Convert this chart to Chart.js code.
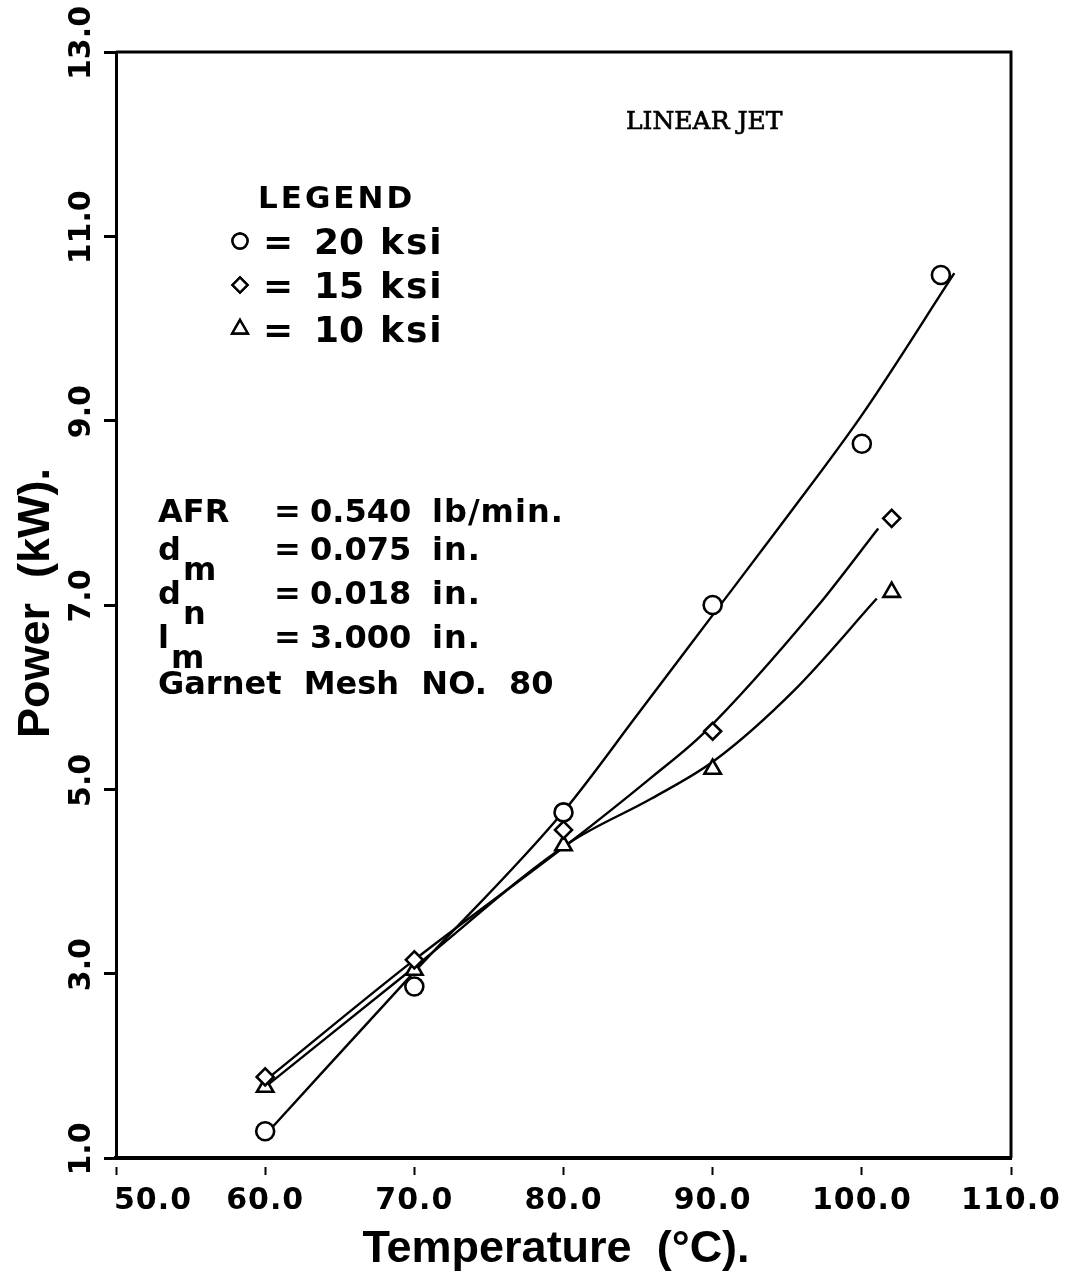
<!DOCTYPE html>
<html>
<head>
<meta charset="utf-8">
<script src="https://cdn.jsdelivr.net/npm/chart.js@4.4.0/dist/chart.umd.min.js"></script>
<style>
  html, body { margin: 0; padding: 0; background: #fff; }
</style>
</head>
<body>
<canvas id="chart" width="1069" height="1272"></canvas>
<script>
// axis ticks
const tempTicks = [50, 60, 70, 80, 90, 100, 110];
const powerTicks = [1, 3, 5, 7, 9, 11, 13];

// measured points (temperature degC, power kW)
const temp20 = [60, 70, 80, 90, 100, 105.3];
const power20 = [1.29, 2.86, 4.75, 7.0, 8.75, 10.58];
const temp15 = [60, 70, 80, 90, 102];
const power15 = [1.88, 3.15, 4.56, 5.63, 7.94];
const temp10 = [60, 70, 80, 90, 102];
const power10 = [1.77, 3.04, 4.39, 5.22, 7.14];

// fitted curves through each set
const fitTemp20 = [60.4, 70, 80, 85, 90, 95, 100, 106.2];
const fitPower20 = [1.32, 3.02, 4.76, 5.82, 6.89, 7.96, 9.06, 10.6];
const fitTemp15 = [60.3, 70, 80.4, 85.9, 89.4, 97, 101.1];
const fitPower15 = [1.88, 3.15, 4.42, 5.13, 5.61, 6.98, 7.83];
const fitTemp10 = [60.3, 70, 80.4, 85.9, 90.1, 95.5, 101];
const fitPower10 = [1.81, 3.07, 4.42, 4.90, 5.31, 6.08, 7.07];

const seriesNames = ["20 ksi", "15 ksi", "10 ksi"];
const seriesStyles = ["circle", "rectRot", "triangle"];

const pts = (xs, ys) => xs.map((x, i) => ({ x, y: ys[i] }));

function fitSet(xs, ys) {
  return {
    data: pts(xs, ys),
    showLine: true,
    borderColor: "#000",
    borderWidth: 2.4,
    pointRadius: 0,
    cubicInterpolationMode: "monotone",
    order: 2
  };
}

function markSet(label, xs, ys, style, r) {
  return {
    label,
    data: pts(xs, ys),
    showLine: false,
    pointStyle: style,
    pointRadius: r,
    pointBorderWidth: 2.6,
    pointBorderColor: "#000",
    pointBackgroundColor: "#fff",
    order: 1
  };
}

function txt(ctx, s, x, y, font, spacing) {
  ctx.font = font;
  if ("letterSpacing" in ctx) ctx.letterSpacing = (spacing || 0) + "px";
  ctx.fillText(s, x, y);
  if ("letterSpacing" in ctx) ctx.letterSpacing = "0px";
}

// labels, legend, notes and frame
const paperText = {
  id: "paperText",
  afterDraw(c) {
    const ctx = c.ctx;
    const area = c.chartArea;
    const xs = c.scales.x, ys = c.scales.y;
    ctx.save();
    ctx.fillStyle = "#000";
    ctx.strokeStyle = "#000";

    // top and right edges of the frame
    ctx.lineWidth = 3;
    ctx.beginPath();
    ctx.moveTo(area.left, area.top);
    ctx.lineTo(area.right, area.top);
    ctx.lineTo(area.right, area.bottom);
    ctx.stroke();

    // x tick labels
    ctx.textBaseline = "alphabetic";
    xs.ticks.forEach((t, i) => {
      const px = xs.getPixelForTick(i);
      const s = t.value.toFixed(1);
      ctx.textAlign = i === 0 ? "left" : "center";
      txt(ctx, s, i === 0 ? px - 2 : px, 1209, "bold 30px 'DejaVu Sans'", 1);
    });

    // y tick labels, turned on their side
    ys.ticks.forEach((t, i) => {
      const py = ys.getPixelForTick(i);
      ctx.save();
      ctx.translate(79, py - 9);
      ctx.rotate(-Math.PI / 2);
      ctx.textAlign = "center";
      txt(ctx, t.value.toFixed(1), 0, 11, "bold 30px 'DejaVu Sans'");
      ctx.restore();
    });

    // axis titles
    ctx.textAlign = "center";
    txt(ctx, "Temperature  (°C).", 556, 1262, "bold 45px 'Liberation Sans'");
    ctx.save();
    ctx.translate(49, 603);
    ctx.rotate(-Math.PI / 2);
    txt(ctx, "Power  (kW).", 0, 0, "bold 45px 'Liberation Sans'");
    ctx.restore();

    // header, typewriter style
    ctx.textAlign = "left";
    ctx.lineWidth = 0.7;
    ctx.font = "25px 'DejaVu Serif'";
    ctx.fillText("LINEAR JET", 626, 129);
    ctx.strokeText("LINEAR JET", 626, 129);

    // legend
    txt(ctx, "LEGEND", 258, 208, "bold 31px 'DejaVu Sans'", 3);
    const rowY = [241, 285, 329];
    const legR = [7.5, 7.5, 9];
    const [sig20, sig15, sig10] = seriesNames.map(n => n.split(" "));
    [sig20, sig15, sig10].forEach((parts, i) => {
      const y = rowY[i];
      ctx.lineWidth = 2.4;
      ctx.fillStyle = "#fff";
      Chart.helpers.drawPoint(ctx, { pointStyle: seriesStyles[i], radius: legR[i], borderWidth: 2.4, rotation: 0 }, 240, y);
      ctx.fill();
      ctx.stroke();
      ctx.fillStyle = "#000";
      txt(ctx, "=", 263, y + 13, "bold 36px 'DejaVu Sans'");
      txt(ctx, parts[0], 314, y + 13, "bold 36px 'DejaVu Sans'");
      txt(ctx, parts[1], 380, y + 13, "bold 36px 'DejaVu Sans'", 2);
    });

    // test conditions
    const f = "bold 32px 'DejaVu Sans'";
    const notes = [
      { name: "AFR", sub: "", val: "0.540", unit: "lb/min.", y: 522 },
      { name: "d", sub: "m", val: "0.075", unit: "in.", y: 560 },
      { name: "d", sub: "n", val: "0.018", unit: "in.", y: 604 },
      { name: "l", sub: "m", val: "3.000", unit: "in.", y: 648 }
    ];
    notes.forEach(n => {
      txt(ctx, n.name, 158, n.y, f);
      if (n.sub) {
        ctx.font = f;
        const w = ctx.measureText(n.name).width;
        txt(ctx, n.sub, 158 + w + 2, n.y + 20, f);
      }
      txt(ctx, "=", 274, n.y, f);
      txt(ctx, n.val, 310, n.y, f);
      txt(ctx, n.unit, 432, n.y, f, 1);
    });
    txt(ctx, "Garnet  Mesh  NO.  80", 158, 694, f);

    ctx.restore();
  }
};

const chart = new Chart(document.getElementById("chart"), {
  type: "scatter",
  data: {
    datasets: [
      fitSet(fitTemp20, fitPower20),
      fitSet(fitTemp15, fitPower15),
      fitSet(fitTemp10, fitPower10),
      markSet(seriesNames[0], temp20, power20, seriesStyles[0], 9),
      markSet(seriesNames[1], temp15, power15, seriesStyles[1], 8.5),
      markSet(seriesNames[2], temp10, power10, seriesStyles[2], 9.5)
    ]
  },
  options: {
    responsive: false,
    animation: false,
    devicePixelRatio: 1,
    layout: { padding: { left: 104, right: 58, top: 52, bottom: 97 } },
    plugins: {
      legend: { display: false },
      tooltip: { enabled: false }
    },
    scales: {
      x: {
        type: "linear",
        min: 50,
        max: 110,
        afterBuildTicks: s => { s.ticks = tempTicks.map(v => ({ value: v })); },
        ticks: { display: false },
        grid: {
          drawOnChartArea: false,
          drawTicks: true,
          tickLength: 17,
          tickWidth: 2,
          tickColor: "#000",
          tickBorderDash: [10, 7],
          tickBorderDashOffset: 10
        },
        border: { display: true, color: "#000", width: 4 }
      },
      y: {
        type: "linear",
        min: 1,
        max: 13,
        afterBuildTicks: s => { s.ticks = powerTicks.map(v => ({ value: v })); },
        ticks: { display: false },
        grid: {
          drawOnChartArea: false,
          drawTicks: true,
          tickLength: 12,
          tickWidth: 3,
          tickColor: "#000"
        },
        border: { display: true, color: "#000", width: 3 }
      }
    }
  },
  plugins: [paperText]
});
</script>
</body>
</html>
